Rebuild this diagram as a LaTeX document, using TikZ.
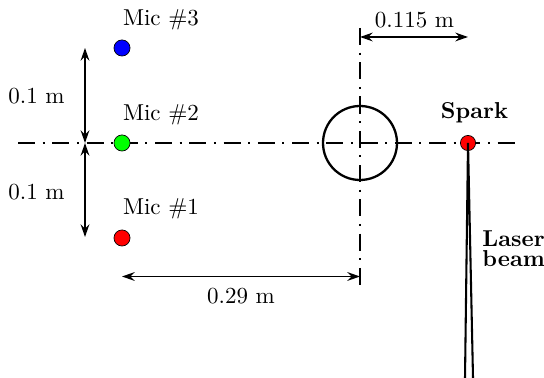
\documentclass[tikz,border=0pt]{standalone}
\usetikzlibrary{arrows.meta}
\begin{document}
\begin{tikzpicture}[x=0.435pt,y=-0.435pt,
  mic/.style={circle,draw=black,line width=0.3pt,minimum size=7pt,inner sep=0pt},
  center line/.style={line width=0.55pt,dash pattern=on 7.4pt off 3.3pt on 0.9pt off 3.3pt},
  dim/.style={line width=0.8pt,{Stealth[length=5.5pt,width=3.8pt,inset=1.8pt]}-{Stealth[length=5.5pt,width=3.8pt,inset=1.8pt]}},
  lbl/.style={inner sep=0pt,font=\normalsize}]
\useasboundingbox (0,0) rectangle (544,378);
% key coordinates
\coordinate (hl) at (18,143);
\coordinate (hr) at (522,143);
\coordinate (vt) at (360,28);
\coordinate (vb) at (360,285);
\coordinate (c) at (360,143);
% centre lines
\draw[center line] (hl) -- (hr);
\draw[center line] (vt) -- (vb);
% circle
\draw[line width=1pt] (c) circle (37);
% microphones
\node[mic,fill=blue] (m3) at (122,48) {};
\node[mic,fill=green] (m2) at (122,143) {};
\node[mic,fill=red] (m1) at (122,238) {};
\node[lbl] (l3) at (161,19.5) {Mic \#3};
\node[lbl] (l2) at (161,114.5) {Mic \#2};
\node[lbl] (l1) at (161,208.5) {Mic \#1};
% vertical dimensions
\coordinate (a3) at (85,48);
\coordinate (a2) at (85,143);
\coordinate (a1) at (85,237);
\draw[dim] (a3) -- (a2);
\draw[dim] (a2) -- (a1);
\node[lbl] (d1) at (36.5,96) {0.1 m};
\node[lbl] (d2) at (36.5,192.5) {0.1 m};
% horizontal dimension 0.29
\coordinate (b1) at (122,276.5);
\coordinate (b2) at (360,276.5);
\draw[dim] (b1) -- (b2);
\node[lbl] (d3) at (241,296.5) {0.29 m};
% spark
\coordinate (e1) at (360,37);
\coordinate (e2) at (468,37);
\draw[dim] (e1) -- (e2);
\node[lbl] (d4) at (414.5,20) {0.115 m};
\coordinate (bl) at (465,378);
\coordinate (br) at (473,378);
\node[mic,fill=red,minimum size=6.6pt] (sp) at (468,143) {};
\draw[line width=0.9pt] (bl) -- (sp.center) -- (br);
\node[lbl,font=\bfseries] (sl) at (474.5,113) {Spark};
\node[lbl,font=\bfseries,align=left,anchor=west] (lb) at (482,249) {Laser\\[-3.3pt]beam};
\end{tikzpicture}
\end{document}
